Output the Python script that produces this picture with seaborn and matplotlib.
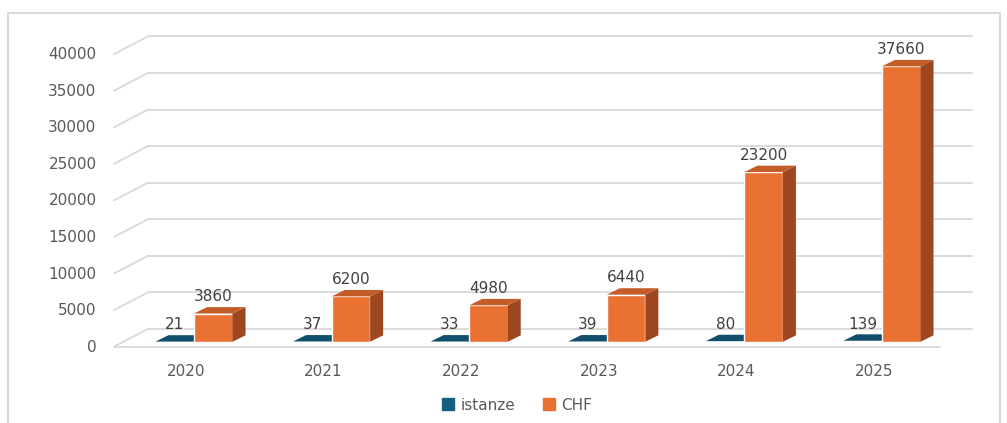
import numpy as np
import pandas as pd
import matplotlib
matplotlib.use("Agg")
import matplotlib.pyplot as plt
import seaborn as sns
from matplotlib.patches import Polygon, Rectangle, Patch

# ---- data ----
years = ["2020", "2021", "2022", "2023", "2024", "2025"]
istanze = [21, 37, 33, 39, 80, 139]
chf = [3860, 6200, 4980, 6440, 23200, 37660]
series = ["istanze", "CHF"]
yticks = list(range(0, 40001, 5000))

df = pd.DataFrame({
    "anno": years * 2,
    "serie": [series[0]] * len(years) + [series[1]] * len(years),
    "valore": istanze + chf,
})

BLUE = "#156082"
ORANGE = "#E97132"
TOPS = ["#104E6B", "#C35C27"]
SIDES = ["#0C3D54", "#9C4720"]
GRID = "#D9D9D9"
TXT = "#595959"
LBL = "#404040"
FS = 11

sns.set_style("white")
plt.rcParams["font.family"] = ["DejaVu Sans"]

W, H = 1007, 423
fig = plt.figure(figsize=(W / 100, H / 100), dpi=100)
ax_w, ax_h = 824, 296.5
ax = fig.add_axes([116 / W, 77.3 / H, ax_w / W, ax_h / H])

sns.barplot(data=df, x="anno", y="valore", hue="serie", hue_order=series,
            palette=[BLUE, ORANGE], width=0.56, dodge=True, legend=False,
            saturation=1, errorbar=None, ax=ax)

ax.set_xlim(-78 / 137.6, 5 + 58 / 137.6)
ax.set_ylim(0, 40000)
x0l, x1l = ax.get_xlim()
px_x = (x1l - x0l) / ax_w
px_y = 40000 / ax_h
for s in ax.spines.values():
    s.set_visible(False)
ax.set_xlabel("")
ax.set_ylabel("")
ax.tick_params(length=0, labelsize=FS, labelcolor=TXT)
ax.tick_params(axis="y", pad=14)
ax.tick_params(axis="x", pad=13)
ax.set_yticks([v - 4 * px_y for v in yticks], [str(v) for v in yticks])
ax.set_xticks(np.arange(len(years)) - 8 * px_x, years)

# back wall gridlines and perspective diagonals
ddx, ddy = 32 * px_x, 13 * px_y
for v in yticks:
    ax.plot([x0l + ddx, x1l + ddx], [v + ddy, v + ddy], color=GRID, lw=1.3,
            clip_on=False, zorder=0.5)
    ax.plot([x0l - 2 * px_x, x0l + ddx], [v - 5 * px_y, v + ddy], color=GRID,
            lw=1.3, clip_on=False, zorder=0.5)
# floor front edge
ax.plot([x0l - 2 * px_x, x1l], [-5 * px_y, -5 * px_y], color=GRID, lw=1.3,
        clip_on=False, zorder=0.5)

# 3D faces for bars
bdx, bdy = 13 * px_x, 6.5 * px_y
for k, (cont, vals) in enumerate(zip(ax.containers, [istanze, chf])):
    z = 2 + k
    for rect, v in zip(cont, vals):
        rect.set_zorder(z)
        x0 = rect.get_x()
        w = rect.get_width()
        h = rect.get_height()
        x1 = x0 + w
        top = Polygon([(x0, h), (x1, h), (x1 + bdx, h + bdy), (x0 + bdx, h + bdy)],
                      closed=True, facecolor=TOPS[k], edgecolor="none",
                      zorder=z, clip_on=False)
        side = Polygon([(x1, 0), (x1 + bdx, bdy), (x1 + bdx, h + bdy), (x1, h)],
                       closed=True, facecolor=SIDES[k], edgecolor="none",
                       zorder=z, clip_on=False)
        ax.add_patch(side)
        ax.add_patch(top)
        ax.annotate(str(v), (x0 + w / 2, h), xytext=(0, 12),
                    textcoords="offset points", ha="center", va="center",
                    fontsize=FS, color=LBL, zorder=5, annotation_clip=False)

# legend
handles = [Patch(color=BLUE, label=series[0]), Patch(color=ORANGE, label=series[1])]
fig.legend(handles=handles, loc="center", bbox_to_anchor=(517 / W, 1 - 405 / H),
           ncol=2, frameon=False, handlelength=0.8, handleheight=0.8,
           handletextpad=0.4, columnspacing=1.8, fontsize=FS, labelcolor=TXT)

# outer border
fig.patches.append(Rectangle((8 / W, -0.05), (1000 - 8) / W, (H - 13) / H + 0.05,
                             transform=fig.transFigure, fill=False,
                             edgecolor=GRID, lw=1.5))

fig.savefig("out.png", dpi=100, facecolor="white")
